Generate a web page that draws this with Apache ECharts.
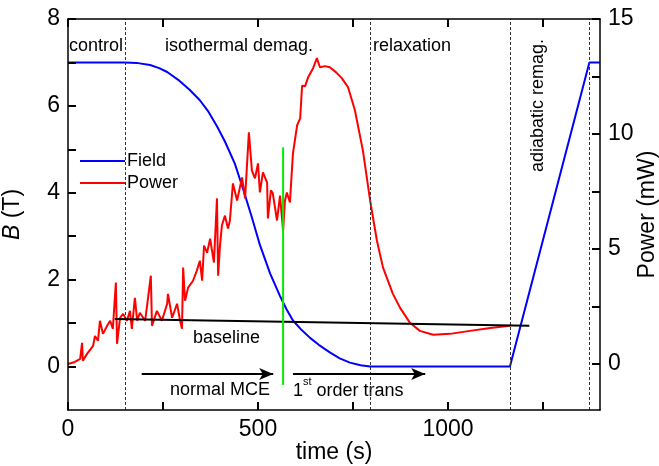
<!DOCTYPE html>
<html>
<head>
<meta charset="utf-8">
<script src="https://cdn.jsdelivr.net/npm/echarts@6/dist/echarts.min.js"></script>
<style>
  html, body { margin: 0; padding: 0; background: #fff; }
  #chart { width: 659px; height: 466px; }
</style>
</head>
<body>
<div id="chart"></div>
<script>
// field (left axis, T) against time (s)
const fieldT = [0, 150, 180, 216, 240, 261, 290, 320, 347, 370, 392, 413, 439, 461, 484, 505, 532, 558, 575, 592, 615, 637, 660, 690, 715, 742, 770, 795, 1163, 1372, 1400];
const fieldB = [7, 7, 6.99, 6.94, 6.87, 6.78, 6.6, 6.37, 6.13, 5.86, 5.53, 5.18, 4.67, 4.08, 3.43, 2.8, 2.14, 1.62, 1.32, 1.06, 0.84, 0.66, 0.5, 0.32, 0.19, 0.09, 0.03, 0, 0, 7, 7];

// measured power (right axis, mW) against time (s)
const powerT = [0, 5, 18, 32, 37, 39, 50, 66, 71, 79, 84, 92, 103, 111, 118, 126, 129, 137, 145, 155, 163, 168, 176, 182, 189, 203, 218, 221, 234, 247, 261, 263, 274, 287, 295, 300, 303, 308, 316, 329, 339, 347, 353, 358, 366, 374, 384, 392, 395, 400, 405, 413, 421, 426, 434, 445, 458, 466, 476, 484, 492, 500, 505, 513, 524, 526, 534, 539, 550, 558, 566, 571, 576, 584, 592, 603, 611, 616, 624, 632, 645, 655, 663, 676, 689, 705, 721, 737, 755, 776, 795, 813, 829, 855, 874, 900, 926, 961, 1005, 1058, 1111, 1163];
const powerP = [0, 0, 0.09, 0.22, 0.92, 0.14, 0.44, 0.79, 1.22, 1.01, 1.88, 1.31, 1.66, 1.88, 1.53, 3.54, 0.88, 2.01, 2.18, 1.88, 2.31, 1.53, 2.88, 1.88, 2.23, 1.88, 3.84, 1.66, 2.31, 1.88, 2.62, 3.05, 2.01, 2.62, 1.88, 1.53, 4.19, 2.75, 3.32, 3.62, 4.06, 4.49, 3.62, 5.15, 4.84, 5.45, 4.41, 7.2, 3.84, 5.15, 6.02, 6.45, 5.89, 6.24, 7.85, 7.11, 8.11, 7.2, 10.07, 8.41, 8.07, 8.72, 7.46, 8.33, 7.89, 6.33, 7.55, 7.42, 6.24, 7.32, 5.8, 7.11, 7.46, 7.02, 9.16, 10.38, 10.68, 12.1, 12.08, 12.47, 12.86, 13.3, 12.9, 12.95, 12.9, 12.69, 12.42, 12.03, 11.03, 9.29, 7.11, 5.36, 4.19, 3.05, 2.44, 1.79, 1.44, 1.27, 1.31, 1.44, 1.57, 1.66];

// baseline (mW)
const baseT = [123, 1214];
const baseP = [1.96, 1.66];

// phase boundaries (s)
const phaseT = [150, 795, 1163, 1372];

// green marker at the transition (s, mW)
const markT = 566;
const markP = [-0.91, 9.42];

// arrows: [start s, end s] at power level arrowP
const arrowNormal = [194, 540];
const arrowFirst = [592, 940];
const arrowP = -0.43;

// ticks
const timeLabels = [0, 500, 1000];
const timeTicks = [0, 250, 500, 750, 1000, 1250];
const bLabels = [0, 2, 4, 6, 8];
const bTicks = [0, 1, 2, 3, 4, 5, 6, 7, 8];
const pLabels = [0, 5, 10, 15];
const pTicks = [0, 2.5, 5, 7.5, 10, 12.5, 15];

const zip = (a, b) => a.map((v, i) => [v, b[i]]);
const font = 'Liberation Sans, Arial, sans-serif';

const chart = echarts.init(document.getElementById('chart'));

const axisLine = () => ({ show: true, onZero: false, lineStyle: { color: '#000', width: 1.5 } });
const tick = vals => ({ show: true, inside: true, length: 8, customValues: vals.slice(), lineStyle: { color: '#000', width: 2 } });
const label = vals => ({ customValues: vals.slice(), formatter: v => String(v), fontSize: 23, color: '#000', margin: 8, fontFamily: font });

chart.setOption({
  animation: false,
  backgroundColor: '#fff',
  textStyle: { fontFamily: font, color: '#000' },
  grid: { left: 68, right: 59, top: 19, bottom: 56, containLabel: false, outerBoundsMode: 'none' },
  legend: {
    orient: 'vertical',
    left: 75,
    top: 147,
    icon: 'rect',
    itemWidth: 45,
    itemHeight: 2,
    itemGap: 4,
    data: ['Field', 'Power'],
    textStyle: { fontSize: 18, color: '#000', fontFamily: font, padding: [0, 0, 0, -3] }
  },
  xAxis: [
    {
      type: 'value', min: 0, max: 1400,
      name: 'time (s)', nameLocation: 'middle', nameGap: 31, nameMoveOverlap: false,
      nameTextStyle: { fontSize: 23, color: '#000', fontFamily: font },
      axisLine: axisLine(),
      axisTick: tick(timeTicks),
      axisLabel: label(timeLabels),
      splitLine: { show: false },
      z: 10
    },
    {
      type: 'value', min: 0, max: 1400, position: 'top',
      axisLine: axisLine(),
      axisTick: tick(timeTicks),
      axisLabel: { show: false },
      splitLine: { show: false },
      z: 10
    }
  ],
  yAxis: [
    {
      type: 'value', min: -1, max: 8,
      name: '{i|B} (T)', nameLocation: 'middle', nameGap: 44, nameMoveOverlap: false,
      nameTextStyle: {
        fontSize: 23, color: '#000', fontFamily: font,
        rich: { i: { fontSize: 23, fontStyle: 'italic', fontFamily: font, color: '#000' } }
      },
      axisLine: axisLine(),
      axisTick: tick(bTicks),
      axisLabel: label(bLabels),
      splitLine: { show: false },
      z: 10
    },
    {
      type: 'value', min: -2, max: 15, position: 'right',
      name: 'Power (mW)', nameLocation: 'middle', nameGap: 36, nameMoveOverlap: false,
      nameTextStyle: { fontSize: 23, color: '#000', fontFamily: font },
      axisLine: axisLine(),
      axisTick: tick(pTicks),
      axisLabel: label(pLabels),
      splitLine: { show: false },
      z: 10
    }
  ],
  series: [
    {
      name: 'Field', type: 'line', yAxisIndex: 0, symbol: 'none',
      lineStyle: { color: '#0000ff', width: 2 }, itemStyle: { color: '#0000ff' },
      data: zip(fieldT, fieldB),
      z: 3
    },
    {
      name: 'Power', type: 'line', yAxisIndex: 1, symbol: 'none',
      lineStyle: { color: '#ff0000', width: 2 }, itemStyle: { color: '#ff0000' },
      data: zip(powerT, powerP),
      z: 4
    },
    {
      name: 'baseline', type: 'line', yAxisIndex: 1, symbol: 'none',
      lineStyle: { color: '#000', width: 2 },
      data: zip(baseT, baseP),
      z: 5,
      markLine: {
        silent: true,
        symbol: ['none', 'none'],
        label: { show: false },
        lineStyle: { color: '#333', width: 1, type: [3, 2] },
        data: phaseT.map(t => ({ xAxis: t }))
      }
    },
    {
      name: 'marker', type: 'line', yAxisIndex: 1, symbol: 'none',
      lineStyle: { color: '#00ee00', width: 2 },
      data: [[markT, markP[0]], [markT, markP[1]]],
      z: 6,
      markLine: {
        silent: true,
        symbol: ['none', 'arrow'],
        symbolSize: [9, 14],
        label: { show: false },
        lineStyle: { color: '#000', width: 2, type: 'solid' },
        data: [
          [{ coord: [arrowNormal[0], arrowP] }, { coord: [arrowNormal[1], arrowP] }],
          [{ coord: [arrowFirst[0], arrowP] }, { coord: [arrowFirst[1], arrowP] }]
        ]
      }
    }
  ],
  graphic: [
    { type: 'text', left: 69, top: 37, style: { text: 'control', fontSize: 18, fontFamily: font, fill: '#000' } },
    { type: 'text', left: 165, top: 37, style: { text: 'isothermal demag.', fontSize: 18, fontFamily: font, fill: '#000' } },
    { type: 'text', left: 373, top: 37, style: { text: 'relaxation', fontSize: 18, fontFamily: font, fill: '#000' } },
    { type: 'text', x: 529, y: 172, rotation: Math.PI / 2, style: { text: 'adiabatic remag.', fontSize: 18, fontFamily: font, fill: '#000' } },
    { type: 'text', left: 193, top: 329, style: { text: 'baseline', fontSize: 18, fontFamily: font, fill: '#000' } },
    { type: 'text', left: 170, top: 381, style: { text: 'normal MCE', fontSize: 18, fontFamily: font, fill: '#000' } },
    {
      type: 'text', left: 293, top: 376,
      style: {
        text: '{a|1}{s|st}{a| order trans}', fontFamily: font, fill: '#000',
        rich: {
          a: { fontSize: 18, fontFamily: font, fill: '#000', verticalAlign: 'bottom', lineHeight: 24 },
          s: { fontSize: 11, fontFamily: font, fill: '#000', verticalAlign: 'top', lineHeight: 24 }
        }
      }
    }
  ]
});
</script>
</body>
</html>
